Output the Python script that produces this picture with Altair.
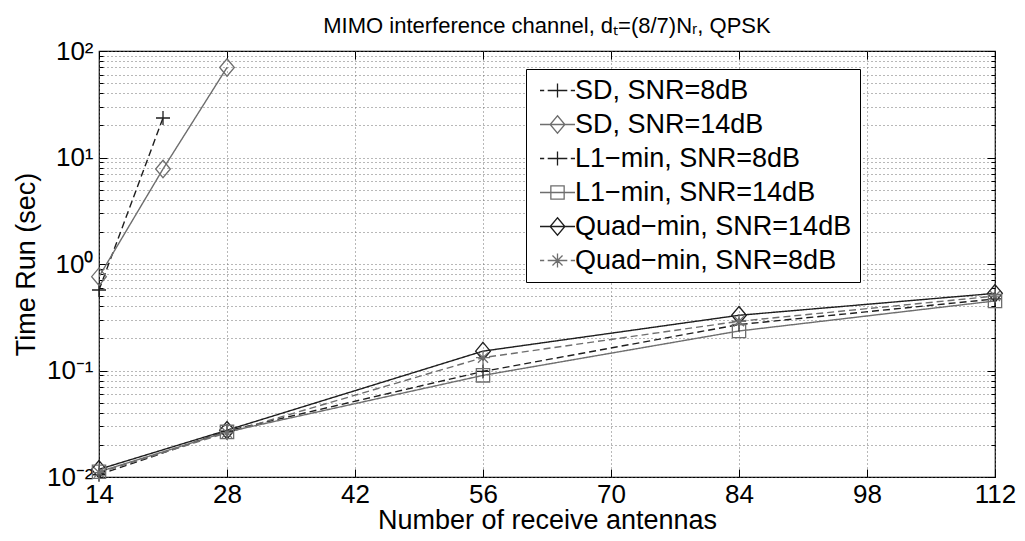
import altair as alt
import pandas as pd

# ---------------- data ----------------
series_names = [
    "SD, SNR=8dB",
    "SD, SNR=14dB",
    "L1\u2212min, SNR=8dB",
    "L1\u2212min, SNR=14dB",
    "Quad\u2212min, SNR=14dB",
    "Quad\u2212min, SNR=8dB",
]

sd8_x = [14, 21]
sd8_y = [0.57, 23.5]
sd14_x = [14, 21, 28]
sd14_y = [0.76, 7.8, 70.0]

antennas = [14, 28, 56, 84, 112]
l1_8 = [0.0105, 0.0270, 0.098, 0.27, 0.47]
l1_14 = [0.0112, 0.0265, 0.090, 0.235, 0.45]
quad_14 = [0.0118, 0.0275, 0.152, 0.33, 0.53]
quad_8 = [0.0110, 0.0260, 0.132, 0.29, 0.50]

x_ticks = [14, 28, 42, 56, 70, 84, 98, 112]
y_decades = [0.01, 0.1, 1, 10, 100]
y_labels = ["10\u207b\u00b2", "10\u207b\u00b9", "10\u2070", "10\u00b9", "10\u00b2"]

# ---------------- styles ----------------
BLACK = "#1e1e1e"
GRAY = "#6e6e6e"
colors = [BLACK, GRAY, BLACK, GRAY, BLACK, GRAY]
dashes = [[7, 4], [1, 0], [7, 4], [1, 0], [1, 0], [7, 4]]

PLUS = "M-1,0H1M0,-1V1"
DIAMOND = "M0,-1.25L1.05,0L0,1.25L-1.05,0Z"
SQUARE = "M-0.95,-0.95H0.95V0.95H-0.95Z"
STAR = "M-1,0H1M0,-1V1M-0.72,-0.72L0.72,0.72M-0.72,0.72L0.72,-0.72"
markers = [PLUS, DIAMOND, PLUS, SQUARE, DIAMOND, STAR]

DASHSEG = "M-2.5,0H-1.9M-1.4,0H1.4M1.9,0H2.5"
SOLIDSEG = "M-2.5,0H2.5"
legend_paths = [
    DASHSEG + PLUS,
    SOLIDSEG + DIAMOND,
    DASHSEG + PLUS,
    SOLIDSEG + SQUARE,
    SOLIDSEG + DIAMOND,
    DASHSEG + STAR,
]

FONT = "Liberation Sans"
XTICK_FS = 26
YTICK_FS = 26
TITLE_FS = 22
AXTITLE_FS = 27
LEGEND_FS = 27

# ---------------- table ----------------
rows = []
for name, xs, ys in [
    (series_names[0], sd8_x, sd8_y),
    (series_names[1], sd14_x, sd14_y),
    (series_names[2], antennas, l1_8),
    (series_names[3], antennas, l1_14),
    (series_names[4], antennas, quad_14),
    (series_names[5], antennas, quad_8),
]:
    for i, (xv, yv) in enumerate(zip(xs, ys)):
        rows.append({"series": name, "n": xv, "t": yv, "i": i})
df = pd.DataFrame(rows)

y_minor = [d * k for d in y_decades[:-1] for k in range(2, 10)]
y_all = sorted(y_decades + y_minor)

label_map = "{" + ",".join(f"'{v}':'{l}'" for v, l in zip(["0.01", "0.1", "1", "10", "100"], y_labels)) + "}"
label_expr = f"{label_map}[format(datum.value, '')] || ''"

xscale = alt.Scale(domain=[14, 112], nice=False, zero=False)
yscale = alt.Scale(type="log", domain=[0.01, 100], nice=False)
color_scale = alt.Scale(domain=series_names, range=colors)
dash_scale = alt.Scale(domain=series_names, range=dashes)
legend_shape_scale = alt.Scale(domain=series_names, range=legend_paths)

GRID = dict(grid=True, gridDash=[1, 3], gridColor="#707070", gridWidth=1, gridOpacity=1)
TXT = dict(labelFont=FONT, labelColor="#000",
           titleFont=FONT, titleFontSize=AXTITLE_FS, titleColor="#000",
           titleFontWeight="normal", labelFlush=False, labelOverlap=False)
TICKAX = dict(labels=False, grid=False, domain=False, title=None,
              tickColor="#000", tickWidth=1)

# layer: lines + main axes (labels, grid)
lines = alt.Chart(df).mark_line(strokeWidth=1.4, clip=True).encode(
    x=alt.X("n:Q", scale=xscale,
            axis=alt.Axis(values=x_ticks, title="Number of receive antennas", ticks=False,
                          domain=False, labelPadding=4, titlePadding=0,
                          labelFontSize=XTICK_FS, **GRID, **TXT)),
    y=alt.Y("t:Q", scale=yscale,
            axis=alt.Axis(values=y_all, labelExpr=label_expr, title="Time Run (sec)",
                          ticks=False, domain=False, labelPadding=6, titlePadding=6,
                          labelFontSize=YTICK_FS, **GRID, **TXT)),
    color=alt.Color("series:N", scale=color_scale, legend=None),
    strokeDash=alt.StrokeDash("series:N", scale=dash_scale, legend=None),
    detail="series:N",
    order="i:Q",
)

# marker layers, one per marker shape
marker_layers = []
for k, path in enumerate([PLUS, DIAMOND, SQUARE, STAR]):
    names = [s for s, m in zip(series_names, markers) if m == path]
    if k == 0:
        xax = alt.Axis(orient="top", values=x_ticks, tickSize=8, offset=-8, **TICKAX)
        yax = alt.Axis(orient="right", values=y_decades, tickSize=8, offset=-8, **TICKAX)
    else:
        xax = None
        yax = None
    marker_layers.append(
        alt.Chart(df)
        .transform_filter(alt.FieldOneOfPredicate(field="series", oneOf=names))
        .mark_point(filled=False, shape=path, size=196, strokeWidth=1.3, opacity=1)
        .encode(
            x=alt.X("n:Q", scale=xscale, axis=xax),
            y=alt.Y("t:Q", scale=yscale, axis=yax),
            color=alt.Color("series:N", scale=color_scale, legend=None),
        )
    )

# legend layer (no marks drawn) + bottom/left major ticks
LEG = dict(title=None, orient="none", legendX=427, legendY=18,
           symbolSize=196, symbolStrokeWidth=1.3, symbolOpacity=1,
           symbolFillColor="transparent", symbolOffset=10,
           labelFont=FONT, labelFontSize=LEGEND_FS, labelColor="#000",
           labelOffset=4, rowPadding=6, padding=8,
           strokeColor="#000", fillColor="#fff", labelLimit=400)
legend_layer = alt.Chart(df).transform_filter("false").mark_point(filled=False, strokeWidth=1.3).encode(
    x=alt.X("n:Q", scale=xscale,
            axis=alt.Axis(orient="bottom", values=x_ticks, tickSize=8, offset=-8, **TICKAX)),
    y=alt.Y("t:Q", scale=yscale,
            axis=alt.Axis(orient="left", values=y_decades, tickSize=8, offset=-8, **TICKAX)),
    color=alt.Color("series:N", scale=color_scale, legend=alt.Legend(**LEG)),
    shape=alt.Shape("series:N", scale=legend_shape_scale, legend=alt.Legend(**LEG)),
)

# minor y ticks left and right
minor_left = alt.Chart(df).transform_filter("false").mark_point().encode(
    x=alt.X("n:Q", scale=xscale, axis=None),
    y=alt.Y("t:Q", scale=yscale,
            axis=alt.Axis(orient="left", values=y_minor, tickSize=4, offset=-4, **TICKAX)),
)
minor_right = alt.Chart(df).transform_filter("false").mark_point().encode(
    x=alt.X("n:Q", scale=xscale, axis=None),
    y=alt.Y("t:Q", scale=yscale,
            axis=alt.Axis(orient="right", values=y_minor, tickSize=4, offset=-4, **TICKAX)),
)

chart = (
    alt.layer(lines, *marker_layers, legend_layer, minor_left, minor_right)
    .resolve_axis(x="independent", y="independent")
    .resolve_legend(color="independent", shape="independent")
    .properties(
        width=896,
        height=426,
        background="#ffffff",
        autosize=alt.AutoSizeParams(type="none"),
        padding={"left": 91, "top": 43, "right": 22, "bottom": 56},
        title=alt.TitleParams("MIMO interference channel, d\u209c=(8/7)N\u1d63, QPSK",
                              font=FONT, fontSize=TITLE_FS, fontWeight="normal", color="#000",
                              offset=0),
    )
    .configure_view(stroke="#000", strokeWidth=1.2)
)

chart.save("out.html", embed_options={"renderer": "svg", "actions": False})
